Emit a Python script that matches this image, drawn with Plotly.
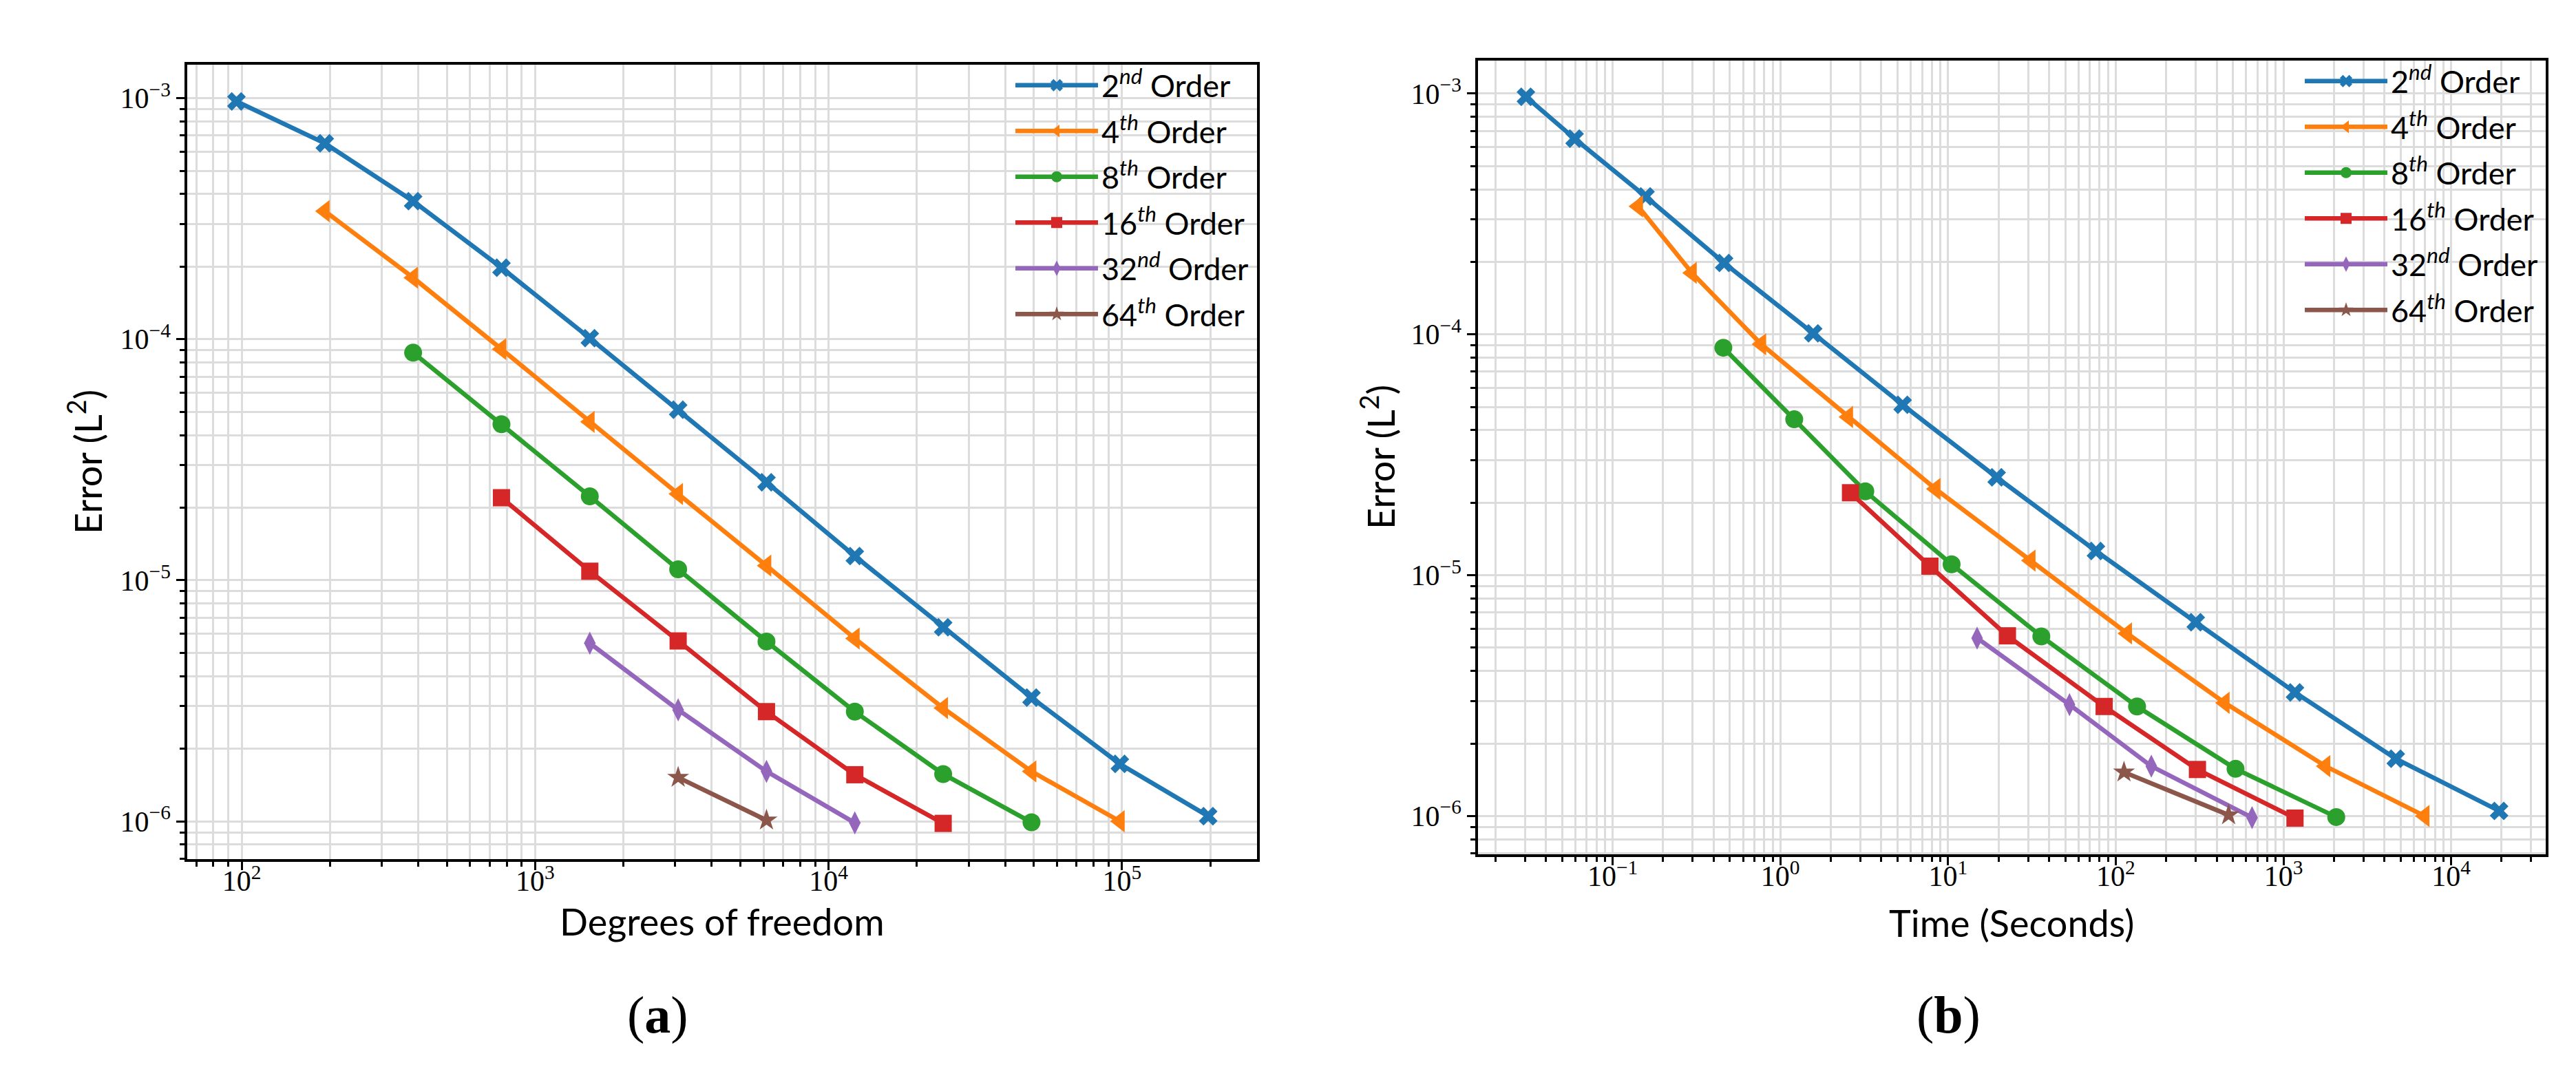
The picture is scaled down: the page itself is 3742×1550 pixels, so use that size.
import plotly.graph_objects as go

# Degrees of freedom (left panel)
dof_2 = [96, 192, 384, 768, 1536, 3072, 6144, 12288, 24576, 49152, 98304, 196608]
dof_4 = [192, 384, 768, 1536, 3072, 6144, 12288, 24576, 49152, 98304]
dof_8 = [384, 768, 1536, 3072, 6144, 12288, 24576, 49152]
dof_16 = [768, 1536, 3072, 6144, 12288, 24576]
dof_32 = [1536, 3072, 6144, 12288]
dof_64 = [3072, 6144]

# L2 error
err_2 = [9.7e-4, 6.5e-4, 3.74e-4, 1.98e-4, 1.01e-4, 5.1e-5, 2.55e-5, 1.26e-5, 6.38e-6, 3.26e-6, 1.73e-6, 1.05e-6]
err_4 = [3.4e-4, 1.8e-4, 9.1e-5, 4.54e-5, 2.28e-5, 1.15e-5, 5.73e-6, 2.95e-6, 1.61e-6, 1.0e-6]
err_8 = [8.8e-5, 4.44e-5, 2.23e-5, 1.11e-5, 5.57e-6, 2.85e-6, 1.57e-6, 0.99e-6]
err_16 = [2.2e-5, 1.09e-5, 5.6e-6, 2.85e-6, 1.56e-6, 0.98e-6]
err_32 = [5.48e-6, 2.9e-6, 1.61e-6, 0.985e-6]
err_64 = [1.52e-6, 1.01e-6]

# Time in seconds (right panel)
t_2 = [0.0304, 0.0593, 0.157, 0.462, 1.57, 5.36, 19.5, 76.2, 300, 1172, 4677, 19320]
t_4 = [0.142, 0.297, 0.77, 2.54, 8.43, 31.1, 117, 447, 1782, 6950]
t_8 = [0.457, 1.21, 3.21, 10.5, 36.0, 134, 518, 2065]
t_16 = [2.62, 7.8, 22.6, 85.3, 307, 1172]
t_32 = [14.9, 53, 163, 650]
t_64 = [112, 471]

names = ["2<sup><i>nd</i></sup> Order", "4<sup><i>th</i></sup> Order", "8<sup><i>th</i></sup> Order",
         "16<sup><i>th</i></sup> Order", "32<sup><i>nd</i></sup> Order", "64<sup><i>th</i></sup> Order"]

W, H = 3742, 1550
COLORS = ["#1f77b4", "#ff7f0e", "#2ca02c", "#d62728", "#9467bd", "#8c564b"]
SYMBOLS = ["x", "triangle-left", "circle", "square", "diamond-tall", "star"]
SIZES = [24, 28, 26, 25, 24, 24]
SANS = "Lato"
SERIF = "Liberation Serif"

fig = go.Figure()

panels = [
    ("x", "y", "legend", [dof_2, dof_4, dof_8, dof_16, dof_32, dof_64]),
    ("x2", "y2", "legend2", [t_2, t_4, t_8, t_16, t_32, t_64]),
]
errs = [err_2, err_4, err_8, err_16, err_32, err_64]

for xa, ya, leg, xs in panels:
    for i, (xv, yv) in enumerate(zip(xs, errs)):
        fig.add_trace(go.Scatter(
            x=xv, y=yv, xaxis=xa, yaxis=ya, legend=leg,
            name=names[i], legendgroup=f"{xa}{i}",
            mode="lines+markers",
            line=dict(color=COLORS[i], width=6.5),
            marker=dict(symbol=SYMBOLS[i], size=SIZES[i], color=COLORS[i]),
        ))


def px_x(p):
    return p / W


def px_y(p):
    return 1 - p / H


def sup_ticks(exps):
    vals = [10.0 ** e for e in exps]
    text = [f"10<sup>{str(e).replace('-', '−')}</sup>" for e in exps]
    return vals, text


def minor_vals(lo, hi):
    return [m * 10.0 ** e for e in range(lo, hi + 1) for m in range(2, 10)]


common = dict(
    type="log", showline=True, mirror=True, linecolor="black", linewidth=3.5,
    ticks="outside", ticklen=12, tickwidth=3, tickcolor="black",
    showgrid=True, gridcolor="#dcdcdc", gridwidth=3.3, zeroline=False,
    tickfont=dict(family=SERIF, size=42, color="black"),
)
minor_style = dict(ticks="outside", ticklen=7, tickwidth=2.5, tickcolor="black",
                   showgrid=True, gridcolor="#dcdcdc", gridwidth=3.3)

yv, yt = sup_ticks([-6, -5, -4, -3])
x1v, x1t = sup_ticks([2, 3, 4, 5])
x2v, x2t = sup_ticks([-1, 0, 1, 2, 3, 4])

fig.update_layout(
    width=W, height=H, margin=dict(l=0, r=0, t=0, b=0),
    paper_bgcolor="white", plot_bgcolor="white", showlegend=True,
    xaxis=dict(common, domain=[px_x(264), px_x(1818)], anchor="y", range=[1.8146, 5.46],
               tickmode="array", tickvals=x1v, ticktext=x1t, ticklabelstandoff=-20,
               minor=dict(minor_style, tickmode="array", tickvals=minor_vals(1, 5))),
    yaxis=dict(common, domain=[px_y(1240), px_y(86)], anchor="x", range=[-6.157, -2.861],
               tickmode="array", tickvals=yv, ticktext=yt,
               minor=dict(minor_style, tickmode="array", tickvals=minor_vals(-7, -3))),
    xaxis2=dict(common, domain=[px_x(2139), px_x(3690)], anchor="y2", range=[-1.803, 4.564],
                tickmode="array", tickvals=x2v, ticktext=x2t, ticklabelstandoff=-20,
                minor=dict(minor_style, tickmode="array", tickvals=minor_vals(-2, 4))),
    yaxis2=dict(common, domain=[px_y(1233), px_y(80)], anchor="x2", range=[-6.159, -2.863],
                tickmode="array", tickvals=yv, ticktext=yt,
                minor=dict(minor_style, tickmode="array", tickvals=minor_vals(-7, -3))),
    legend=dict(x=px_x(1812), xanchor="right", y=px_y(80), yanchor="top",
                bgcolor="rgba(0,0,0,0)", font=dict(family=SANS, size=45, color="black"),
                tracegroupgap=5, itemwidth=120),
    legend2=dict(x=px_x(3685), xanchor="right", y=px_y(74), yanchor="top",
                 bgcolor="rgba(0,0,0,0)", font=dict(family=SANS, size=45, color="black"),
                 tracegroupgap=5, itemwidth=120),
)

# axis titles
titles = [
    ("Degrees of freedom", 1041, 1330, 0),
    ("Time (Seconds)", 2914, 1332, 0),
    ("Error (L<sup>2</sup>)", 116, 663, -90),
    ("Error (L<sup>2</sup>)", 1994, 656, -90),
]
for text, cx, cy, ang in titles:
    fig.add_annotation(text=text, xref="paper", yref="paper", x=px_x(cx), y=px_y(cy),
                       xanchor="center", yanchor="middle", textangle=ang, showarrow=False,
                       font=dict(family=SANS, size=54, color="black"))

# sub-figure captions
for label, cx in [("a", 948), ("b", 2822)]:
    fig.add_annotation(text=f"(<b>{label}</b>)", xref="paper", yref="paper",
                       x=px_x(cx), y=px_y(1466), xanchor="center", yanchor="middle",
                       showarrow=False, font=dict(family=SERIF, size=76, color="black"))

fig.write_html("out.html")
